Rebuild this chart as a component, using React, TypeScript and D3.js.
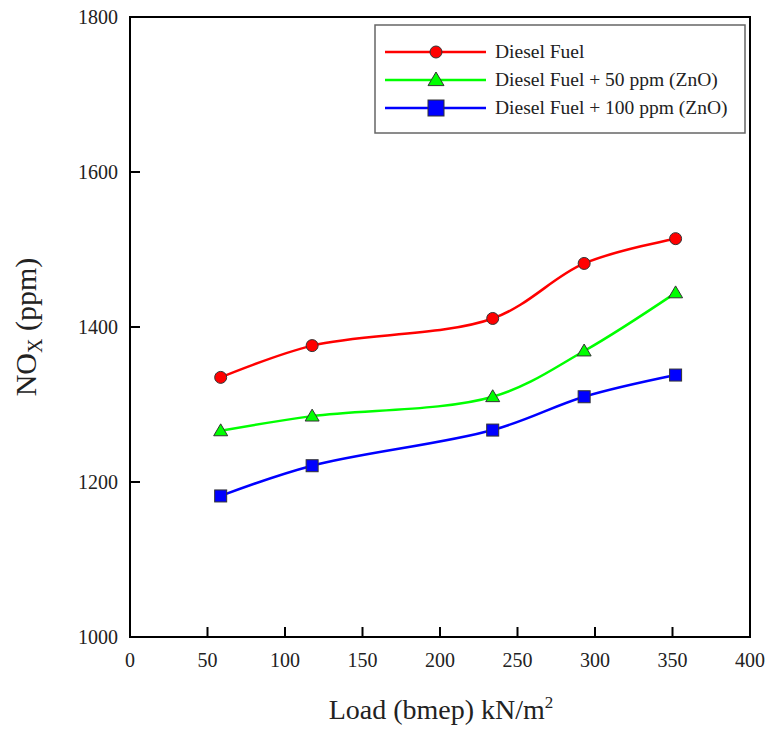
import React from "react";
import * as d3 from "d3";

const loads = [58.5, 117.5, 234, 293, 352];
const dieselFuel = [1335, 1376, 1411, 1482, 1514];
const zno50 = [1266, 1285, 1310, 1369, 1444];
const zno100 = [1182, 1221, 1267, 1310, 1338];
const xTicks = [0, 50, 100, 150, 200, 250, 300, 350, 400];
const yTicks = [1000, 1200, 1400, 1600, 1800];
const seriesNames = ["Diesel Fuel", "Diesel Fuel + 50 ppm (ZnO)", "Diesel Fuel + 100 ppm (ZnO)"];
const seriesColors = ["#ff0000", "#00ff00", "#0000ff"];
const seriesMarkers = ["circle", "triangle", "square"];

const W = 770, H = 730;
const L = 130, R = 750, T = 17, B = 637;
const fontStyle = { fontFamily: "Liberation Serif, Times New Roman, DejaVu Serif, serif" };

function Marker({ kind, x, y, color, big }: { kind: string; x: number; y: number; color: string; big?: boolean }) {
  const st = { fill: color, stroke: "#333", strokeWidth: 1 };
  if (kind === "circle") return <circle cx={x} cy={y} r={6} {...st} />;
  if (kind === "triangle") {
    const s = big ? 8 : 7;
    return <path d={`M${x},${y - s}L${x + s},${y + s * 0.7}L${x - s},${y + s * 0.7}Z`} {...st} />;
  }
  const h = big ? 8 : 6;
  return <rect x={x - h} y={y - h} width={2 * h} height={2 * h} {...st} />;
}

export default function App() {
  const x = d3.scaleLinear().domain([0, 400]).range([L, R]);
  const y = d3.scaleLinear().domain([1000, 1800]).range([B, T]);
  const data = [dieselFuel, zno50, zno100];
  const line = d3
    .line<[number, number]>()
    .x((d) => x(d[0]))
    .y((d) => y(d[1]))
    .curve(d3.curveCatmullRom.alpha(0.5));

  return (
    <svg width={W} height={H} style={{ display: "block", position: "absolute", left: 0, top: 0 }}>
      <rect width={W} height={H} fill="#fff" />
      {data.map((vals, i) => {
        const pts = loads.map((l, j) => [l, vals[j]] as [number, number]);
        return (
          <g key={i}>
            <path d={line(pts) || ""} fill="none" stroke={seriesColors[i]} strokeWidth={2.5} />
            {pts.map((p, j) => (
              <Marker key={j} kind={seriesMarkers[i]} x={x(p[0])} y={y(p[1])} color={seriesColors[i]} />
            ))}
          </g>
        );
      })}
      <rect x={L} y={T} width={R - L} height={B - T} fill="none" stroke="#000" strokeWidth={2} />
      <g style={fontStyle} fill="#222">
        {xTicks.map((t) => (
          <g key={t}>
            <line x1={x(t)} x2={x(t)} y1={B} y2={B - 10} stroke="#000" strokeWidth={2} />
            <text x={x(t)} y={667} textAnchor="middle" fontSize={20}>
              {t}
            </text>
          </g>
        ))}
        {yTicks.map((t) => (
          <g key={t}>
            <line x1={L} x2={L + 10} y1={y(t)} y2={y(t)} stroke="#000" strokeWidth={2} />
            <text x={118} y={y(t) + 7} textAnchor="end" fontSize={20}>
              {t}
            </text>
          </g>
        ))}
        <text x={441} y={719} textAnchor="middle" fontSize={28}>
          Load (bmep) kN/m<tspan fontSize={17} dy={-11}>2</tspan>
        </text>
        <text transform="translate(36,327) rotate(-90)" textAnchor="middle" fontSize={30}>
          NO<tspan fontSize={20} dy={6}>X</tspan>
          <tspan dy={-6}> (ppm)</tspan>
        </text>
        <rect x={375} y={25} width={370} height={108} fill="#fff" stroke="#666" strokeWidth={1.5} />
        {seriesNames.map((n, i) => {
          const ly = 52 + i * 28;
          return (
            <g key={n}>
              <line x1={385} x2={486} y1={ly} y2={ly} stroke={seriesColors[i]} strokeWidth={2.5} />
              <Marker kind={seriesMarkers[i]} x={436} y={ly} color={seriesColors[i]} big />
              <text x={495} y={ly + 6} fontSize={19.5}>
                {n}
              </text>
            </g>
          );
        })}
      </g>
    </svg>
  );
}
